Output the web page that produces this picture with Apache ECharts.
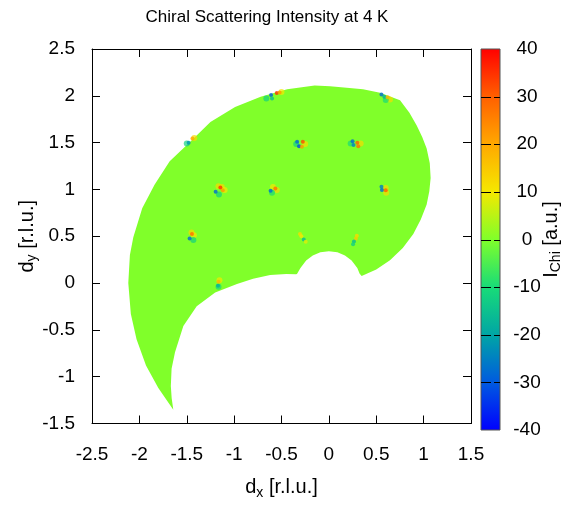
<!DOCTYPE html>
<html>
<head>
<meta charset="utf-8">
<script src="https://cdn.jsdelivr.net/npm/echarts@6/dist/echarts.min.js"></script>
<style>
  html, body { margin: 0; padding: 0; background: #ffffff; }
  #chart { width: 571px; height: 505px; }
</style>
</head>
<body>
<div id="chart"></div>
<script>
// Axis ranges (r.l.u.) and colour-bar range (a.u.)
const xRange = [-2.5, 1.5];
const yRange = [-1.5, 2.5];
const cbRange = [-40, 40];
const tickStep = 0.5;
const cbStep = 10;
const cbTicks = [-30, -20, -10, 0, 10, 20, 30];

// Colour scale from -40 to 40, evenly spaced stops
const cbColors = ['#0000ff', '#005ae0', '#00a5a5', '#18dc78', '#80ff2a',
                  '#f5e800', '#ffa800', '#ff5f00', '#ff0000'];

// Boundary of the measured area, walked clockwise from the bottom tip
const outerArc = [
  [-1.642, -1.353], [-1.80, -1.12], [-1.93, -0.88], [-2.03, -0.60], [-2.09, -0.33],
  [-2.117, 0.0], [-2.10, 0.30], [-2.064, 0.49], [-1.97, 0.80], [-1.84, 1.05],
  [-1.68, 1.30], [-1.466, 1.507], [-1.25, 1.72], [-0.99, 1.88], [-0.72, 1.99],
  [-0.44, 2.07], [-0.15, 2.11], [0.012, 2.103], [0.188, 2.086], [0.36, 2.07],
  [0.54, 2.034], [0.751, 1.953]
];
const rightArc = [
  [0.85, 1.82], [0.927, 1.682], [0.985, 1.56], [1.032, 1.437], [1.065, 1.28],
  [1.074, 1.121], [1.06, 0.98], [1.032, 0.84], [0.97, 0.68], [0.891, 0.524],
  [0.78, 0.375], [0.645, 0.244], [0.50, 0.145], [0.346, 0.076]
];
const innerCircle = [
  [0.325, 0.10], [0.30, 0.16], [0.24, 0.24], [0.17, 0.295], [0.09, 0.328],
  [0.0, 0.34], [-0.09, 0.328], [-0.17, 0.295], [-0.24, 0.24], [-0.30, 0.16],
  [-0.335, 0.10]
];
const holeEdge = [
  [-0.345, 0.093], [-0.45, 0.098], [-0.62, 0.085], [-0.80, 0.045], [-0.97, -0.01],
  [-1.20, -0.10], [-1.395, -0.247], [-1.536, -0.458], [-1.624, -0.739],
  [-1.66, -0.914], [-1.668, -1.10], [-1.659, -1.23]
];
const regionOutline = outerArc.concat(rightArc, innerCircle, holeEdge);

// Background level of the measured area
const backgroundLevel = 0;

// Chiral intensity near the magnetic peaks: [dx, dy, I]
const peakHalo = [
  [-0.50, 2.04, 10], [-0.66, 1.97, -12],
  [0.645, 1.96, 12], [0.60, 1.955, -10],
  [-1.42, 1.55, 12], [-1.50, 1.49, -12],
  [-0.25, 1.485, 12], [-0.345, 1.485, -12],
  [0.335, 1.49, 12], [0.23, 1.49, -10],
  [0.60, 1.015, 12], [0.605, 0.965, 12],
  [-1.165, 1.035, 12], [-1.13, 1.025, 12], [-1.10, 0.995, 10], [-1.16, 0.945, -12],
  [-0.55, 0.995, 12], [-0.59, 1.025, 10], [-0.60, 0.965, -10],
  [-1.45, 0.54, 12], [-1.425, 0.51, 10], [-1.43, 0.46, -12],
  [-1.155, 0.03, 10], [-1.165, -0.04, -10]
];
const peakCore = [
  // (-0.6, 2.0)
  [-0.55, 2.03, 35], [-0.52, 2.035, 22], [-0.61, 2.01, -30], [-0.60, 1.97, -16],
  // (0.55, 2.0)
  [0.555, 2.015, -28], [0.585, 1.99, -18], [0.62, 1.985, 18],
  // (-1.45, 1.5)
  [-1.44, 1.545, 20], [-1.48, 1.50, -22],
  // (-0.3, 1.5)
  [-0.335, 1.51, -28], [-0.315, 1.46, -32], [-0.275, 1.51, 32], [-0.285, 1.455, 22],
  // (0.27, 1.5)
  [0.25, 1.515, -28], [0.26, 1.475, -25], [0.30, 1.50, 30], [0.31, 1.46, 28],
  // (0.57, 1.0)
  [0.555, 1.03, -25], [0.56, 0.995, -28], [0.60, 0.99, 30],
  // (-1.15, 1.0)
  [-1.145, 1.02, 35], [-1.12, 0.99, 22], [-1.195, 0.975, -28],
  // (-0.58, 1.0)
  [-0.615, 0.985, -28], [-0.565, 1.01, 28],
  // (-1.45, 0.5)
  [-1.445, 0.525, 28], [-1.47, 0.475, -28],
  // (-1.165, 0.0)
  [-1.165, 0.015, 18], [-1.17, -0.03, -18],
  // streak near (-0.28, 0.48)
  [-0.305, 0.525, 12], [-0.29, 0.50, 10], [-0.265, 0.465, -16], [-0.245, 0.44, 8],
  // streak near (0.28, 0.46)
  [0.295, 0.505, 12], [0.285, 0.475, 14], [0.265, 0.445, -16], [0.255, 0.415, -12]
];

const FONT = "'Liberation Sans', Arial, Helvetica, sans-serif";
const TITLE_FS = 17;
const TICK_FS = 19;
const NAME_FS = 20;
const rich = {
  n: { fontFamily: FONT, fontSize: NAME_FS, color: '#000', lineHeight: 22 },
  s: { fontFamily: FONT, fontSize: 14, color: '#000', lineHeight: 14, padding: [11, 0, 0, 0] }
};

const frameAxis = (extra) => Object.assign({
  type: 'value',
  gridIndex: 0,
  interval: tickStep,
  axisLine: { show: true, onZero: false, lineStyle: { color: '#000', width: 1 } },
  axisTick: { show: true, inside: true, length: 8, lineStyle: { color: '#000', width: 1 } },
  splitLine: { show: false },
  axisLabel: { show: false }
}, extra);

const chart = echarts.init(document.getElementById('chart'), null, { renderer: 'canvas' });

chart.setOption({
  animation: false,
  backgroundColor: '#ffffff',
  textStyle: { fontFamily: FONT },
  graphic: [{
    type: 'text',
    x: 267, y: 17,
    style: {
      text: 'Chiral Scattering Intensity at 4 K',
      fontFamily: FONT, fontSize: TITLE_FS, fill: '#000',
      textAlign: 'center', textVerticalAlign: 'middle'
    }
  }],
  grid: [
    { left: 92, top: 49, width: 379, height: 380 },
    { left: 481, top: 49, width: 19, height: 381 }
  ],
  xAxis: [
    frameAxis({
      min: xRange[0], max: xRange[1], position: 'bottom',
      axisLabel: { show: true, margin: 22, color: '#000', fontFamily: FONT, fontSize: TICK_FS },
      name: '{n|d}{s|x}{n| [r.l.u.]}',
      nameLocation: 'middle', nameGap: 53, nameMoveOverlap: false,
      nameTextStyle: { rich: rich }
    }),
    frameAxis({ min: xRange[0], max: xRange[1], position: 'top' }),
    { type: 'value', gridIndex: 1, min: 0, max: 1, show: false }
  ],
  yAxis: [
    frameAxis({
      min: yRange[0], max: yRange[1], position: 'left',
      axisLabel: { show: true, margin: 17, color: '#000', fontFamily: FONT, fontSize: TICK_FS },
      name: '{n|d}{s|y}{n| [r.l.u.]}',
      nameLocation: 'middle', nameGap: 54, nameRotate: 90, nameMoveOverlap: false,
      nameTextStyle: { rich: rich }
    }),
    frameAxis({ min: yRange[0], max: yRange[1], position: 'right' }),
    {
      type: 'value', gridIndex: 1, position: 'right',
      min: cbRange[0], max: cbRange[1], interval: cbStep,
      axisLine: { show: false },
      axisTick: { show: false },
      splitLine: { show: false },
      axisLabel: { show: true, margin: 27, align: 'center', color: '#000',
                   fontFamily: FONT, fontSize: TICK_FS },
      name: '{n|I}{s|Chi}{n| [a.u.]}',
      nameLocation: 'middle', nameGap: 40, nameRotate: 90, nameMoveOverlap: false,
      nameTextStyle: { rich: rich }
    }
  ],
  visualMap: {
    type: 'continuous', show: false,
    min: cbRange[0], max: cbRange[1], dimension: 2,
    seriesIndex: [0, 1, 2],
    inRange: { color: cbColors }
  },
  series: [
    {
      // measured area, filled with the background level colour
      type: 'custom', xAxisIndex: 0, yAxisIndex: 0, silent: true, z: 1,
      data: [[-0.5, 0.5, backgroundLevel]],
      encode: { x: 0, y: 1 },
      renderItem: (params, api) => ({
        type: 'polygon',
        shape: { points: regionOutline.map(p => api.coord(p)) },
        style: { fill: api.visual('color') }
      })
    },
    {
      type: 'scatter', xAxisIndex: 0, yAxisIndex: 0, silent: true, z: 2,
      symbol: 'circle', symbolSize: 6,
      itemStyle: { opacity: 0.7 },
      data: peakHalo
    },
    {
      type: 'scatter', xAxisIndex: 0, yAxisIndex: 0, silent: true, z: 3,
      symbol: 'circle', symbolSize: 4,
      data: peakCore
    },
    {
      // colour bar with dashed tick marks
      type: 'custom', xAxisIndex: 2, yAxisIndex: 2, silent: true, z: 1,
      data: [[0, cbRange[0], 1, cbRange[1]]],
      renderItem: (params, api) => {
        const p0 = api.coord([api.value(0), api.value(3)]);
        const p1 = api.coord([api.value(2), api.value(1)]);
        const children = [{
          type: 'rect',
          shape: { x: p0[0], y: p0[1], width: p1[0] - p0[0], height: p1[1] - p0[1] },
          style: {
            fill: new echarts.graphic.LinearGradient(0, 1, 0, 0,
              cbColors.map((c, i) => ({ offset: i / (cbColors.length - 1), color: c }))),
            stroke: '#555', lineWidth: 1
          }
        }];
        cbTicks.forEach(v => {
          const y = Math.round(api.coord([0, v])[1]) + 0.5;
          children.push({
            type: 'line',
            shape: { x1: p0[0], y1: y, x2: p1[0], y2: y },
            style: { stroke: '#000', lineWidth: 1, lineDash: [10, 3] }
          });
        });
        return { type: 'group', children: children };
      }
    }
  ]
});
</script>
</body>
</html>
